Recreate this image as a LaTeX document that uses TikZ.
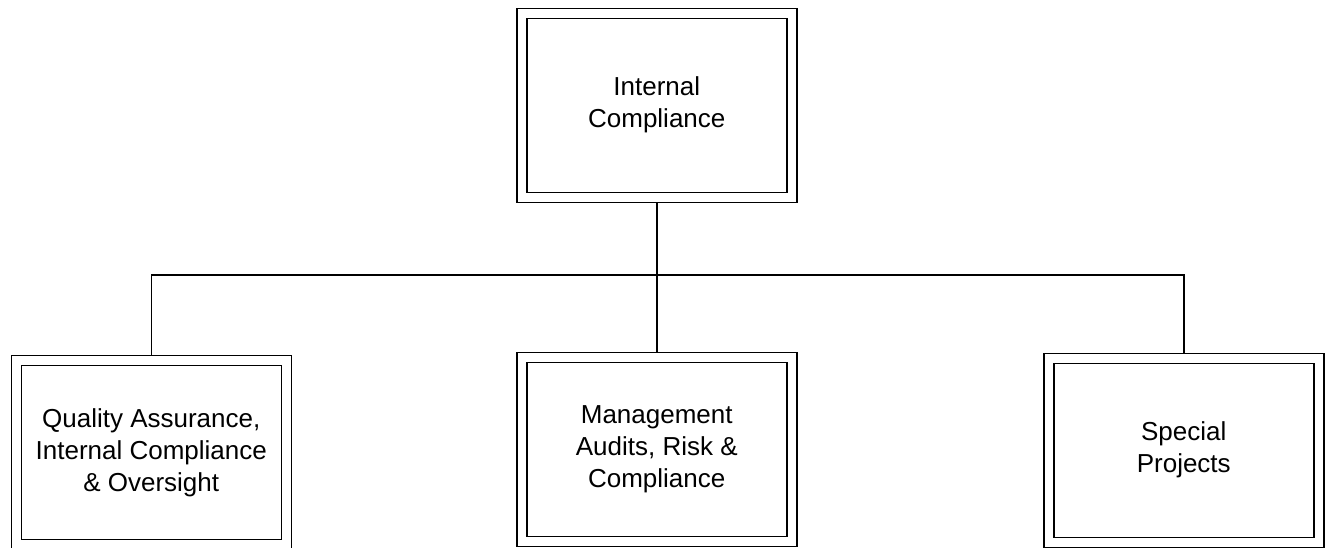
\documentclass[tikz,border=0pt]{standalone}
\usepackage{fontspec}
\setmainfont{Liberation Sans}
\begin{document}
\begin{tikzpicture}[x=1pt,y=1pt,
  unitbox/.style={draw=black, line width=1.5pt, double=white, double distance=8.5pt,
    minimum width=270pt, minimum height=184pt, inner sep=0pt, outer sep=5.6pt,
    align=center, font=\fontsize{26pt}{32pt}\selectfont},
  link/.style={draw=black, line width=1.5pt}]
  \useasboundingbox[fill=white] (0,0) rectangle (1325,-547);

  % head unit and its three sections
  \node[unitbox] (top) at (656.75,-105.25) {Internal\\Compliance};
  \node[unitbox] (qa)  at (151.25,-452.5) {Quality Assurance,\\Internal Compliance\\\& Oversight};
  \node[unitbox] (mac) at (656.75,-449.5) {Management\\Audits, Risk \&\\Compliance};
  \node[unitbox] (sp)  at (1183.75,-450.25) {Special\\Projects};

  % reporting lines
  \coordinate (bus) at (0,-275);
  \draw[link] (top.south) -- (top.south |- bus);
  \draw[link] (qa.north) -- (qa.north |- bus) -- (sp.north |- bus) -- (sp.north);
  \draw[link] (mac.north) -- (mac.north |- bus);
\end{tikzpicture}
\end{document}
